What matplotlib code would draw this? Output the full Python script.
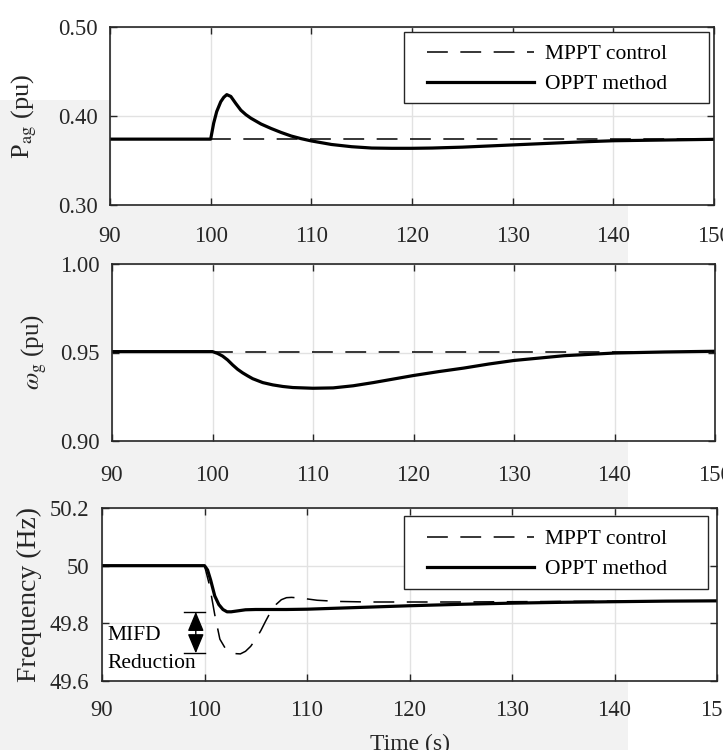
import matplotlib
matplotlib.use("Agg")
import matplotlib.pyplot as plt
from matplotlib.patches import Rectangle

plt.rcParams['font.family'] = ['Liberation Serif', 'DejaVu Serif']
plt.rcParams['mathtext.fontset'] = 'stix'
plt.rcParams['lines.scale_dashes'] = False

# ---------------- data ----------------
t_pag = [90, 100, 100.3, 100.6, 101.0, 101.3, 101.6, 102.0, 102.5, 103.0, 103.5, 104.0,
         105.0, 106.0, 107.0, 108.0, 109.0, 110.0, 112.0, 114.0, 116.0, 118.0, 120.0,
         122.0, 125.0, 128.0, 131.0, 134.0, 137.0, 140.0, 145.0, 150.0]
pag_oppt = [0.374, 0.374, 0.392, 0.405, 0.416, 0.421, 0.424, 0.422, 0.414, 0.4065, 0.4015, 0.3975,
            0.391, 0.386, 0.3815, 0.3775, 0.3745, 0.372, 0.368, 0.3655, 0.364, 0.3637, 0.3637,
            0.364, 0.365, 0.3665, 0.368, 0.3695, 0.371, 0.3722, 0.373, 0.3738]
t_mppt_pag = [90, 150]
pag_mppt = [0.374, 0.374]

t_wg = [90, 100, 100.5, 101.0, 101.5, 102.0, 102.5, 103.0, 103.5, 104.0, 105.0, 106.0, 107.0,
        108.0, 110.0, 112.0, 114.0, 116.0, 118.0, 120.0, 122.5, 125.0, 127.5, 130.0, 135.0,
        140.0, 145.0, 150.0]
wg_oppt = [0.9505, 0.9505, 0.9495, 0.9480, 0.9458, 0.9430, 0.9405, 0.9385, 0.9368, 0.9352, 0.9330,
           0.9317, 0.9308, 0.9302, 0.9298, 0.9300, 0.9312, 0.9330, 0.9350, 0.9370, 0.9392, 0.9412,
           0.9435, 0.9455, 0.9482, 0.9497, 0.9503, 0.9507]
t_mppt_wg = [90, 150]
wg_mppt = [0.9505, 0.9505]

t_f_oppt = [90, 100, 100.3, 100.6, 101.0, 101.4, 101.8, 102.2, 102.6, 103.0, 104.0, 105.0,
            106.0, 108.0, 110.0, 115.0, 120.0, 125.0, 130.0, 135.0, 140.0, 145.0, 150.0]
f_oppt = [50.0, 50.0, 49.985, 49.95, 49.895, 49.865, 49.848, 49.840, 49.840, 49.842, 49.847, 49.848,
          49.848, 49.848, 49.849, 49.855, 49.861, 49.866, 49.870, 49.873, 49.875, 49.877, 49.878]

t_f_mppt = [90, 100, 100.5, 101.0, 101.5, 102.0, 102.5, 103.0, 103.5, 104.0, 104.5, 105.0, 105.5,
            106.0, 106.5, 107.0, 107.5, 108.0, 108.5, 109.5, 111.0, 113.0, 116.0, 125.0, 135.0, 150.0]
f_mppt = [50.0, 50.0, 49.93, 49.83, 49.745, 49.715, 49.700, 49.695, 49.694, 49.703, 49.720, 49.745,
          49.775, 49.810, 49.843, 49.866, 49.882, 49.889, 49.890, 49.887, 49.880, 49.876, 49.874,
          49.874, 49.876, 49.878]

mifd_top = 49.840
mifd_bottom = 49.696

xticks = [90, 100, 110, 120, 130, 140, 150]
yticks_pag = [0.30, 0.40, 0.50]
yticklabels_pag = ['0.30', '0.40', '0.50']
yticks_wg = [0.90, 0.95, 1.00]
yticklabels_wg = ['0.90', '0.95', '1.00']
yticks_f = [49.6, 49.8, 50.0, 50.2]
yticklabels_f = ['49.6', '49.8', '50', '50.2']
legend_labels = ['MPPT control', 'OPPT method']

# ---------------- figure ----------------
W, H = 723, 750
fig = plt.figure(figsize=(W / 100, H / 100), dpi=100, facecolor='white')
fig.add_artist(Rectangle((0, 0), 628 / W, 650 / H, transform=fig.transFigure,
                         facecolor='#f2f2f2', edgecolor='none', zorder=-10))

def pos(l, r, top, bot):
    return [l / W, 1 - bot / H, (r - l) / W, (bot - top) / H]

A1 = (110, 714, 27, 205)
A2 = (112, 715, 264, 441)
A3 = (102, 717, 508, 681)
ax1 = fig.add_axes(pos(*A1))
ax2 = fig.add_axes(pos(*A2))
ax3 = fig.add_axes(pos(*A3))

TICK_FS = 16.3
INK = '#262626'
dash = (0, (15, 9))
kw_d = dict(color='black', lw=1.1, linestyle=dash)
kw_s = dict(color='black', lw=2.3)

def style(ax, yt, ytl, ylim, xpad):
    ax.set_xlim(90, 150)
    ax.set_ylim(*ylim)
    ax.set_xticks(xticks)
    ax.set_yticks(yt)
    ax.set_yticklabels(ytl)
    ax.grid(True, color='#e2e2e2', lw=1.0)
    ax.set_axisbelow(True)
    for s in ax.spines.values():
        s.set_linewidth(1.2)
        s.set_color(INK)
    ax.tick_params(direction='in', length=5, width=1.0, top=True, right=True,
                   labelsize=TICK_FS, colors=INK)
    ax.tick_params(axis='x', pad=xpad)
    ax.tick_params(axis='y', pad=9)
    ax.set_facecolor('white')

def px2ax(A, x, y):
    l, r, top, bot = A
    return (x - l) / (r - l), (bot - y) / (bot - top)

def add_legend(ax, A, handle_x, first_top, box):
    ax_x, ax_y = px2ax(A, handle_x, first_top)
    leg = ax.legend(loc='upper left', bbox_to_anchor=(ax_x, ax_y), borderaxespad=0,
                    borderpad=0, fontsize=15.5, frameon=False, handlelength=4.95,
                    handletextpad=0.55, labelspacing=0.47)
    bx0, by0 = px2ax(A, box[0], box[3])
    bx1, by1 = px2ax(A, box[2], box[1])
    ax.add_patch(Rectangle((bx0, by0), bx1 - bx0, by1 - by0, transform=ax.transAxes,
                           facecolor='white', edgecolor=INK, lw=1.0, zorder=4))
    leg.set_zorder(5)

# Top: P_ag
ax1.plot(t_mppt_pag, pag_mppt, label=legend_labels[0], **kw_d)
ax1.plot(t_pag, pag_oppt, label=legend_labels[1], **kw_s)
style(ax1, yticks_pag, yticklabels_pag, (0.30, 0.50), 15)
ax1.set_ylabel(r'P$_{\rm ag}$ (pu)', fontsize=19, color=INK)
ax1.yaxis.set_label_coords(-0.118, 0.5)
add_legend(ax1, A1, 427, 44, (404, 32, 709, 103))

# Middle: omega_g
ax2.plot(t_mppt_wg, wg_mppt, **kw_d)
ax2.plot(t_wg, wg_oppt, **kw_s)
style(ax2, yticks_wg, yticklabels_wg, (0.90, 1.00), 17)
ax2.set_ylabel(r'$\omega_{\rm g}$ (pu)', fontsize=18, color=INK)
ax2.yaxis.set_label_coords(-0.105, 0.5)

# Bottom: frequency
ax3.plot(t_f_mppt, f_mppt, label=legend_labels[0], **kw_d)
ax3.plot(t_f_oppt, f_oppt, label=legend_labels[1], **kw_s)
style(ax3, yticks_f, yticklabels_f, (49.6, 50.2), 14)
ax3.set_ylabel('Frequency (Hz)', fontsize=20, color=INK)
ax3.yaxis.set_label_coords(-0.098, 0.5)
ax3.set_xlabel('Time (s)', fontsize=17, color=INK)
ax3.xaxis.set_label_coords(*px2ax(A3, 410, 744))
ax3.xaxis.label.set_va('center')
add_legend(ax3, A3, 427, 529, (404, 516, 708, 589))

# MIFD annotation
ax3.plot([98.0, 100.0], [mifd_top, mifd_top], color='black', lw=1.0)
ax3.plot([98.0, 100.0], [mifd_bottom, mifd_bottom], color='black', lw=1.0)
ax3.annotate('', xy=(99.15, mifd_top), xytext=(99.15, mifd_bottom),
             arrowprops=dict(arrowstyle='<|-|>,head_length=0.6,head_width=0.25',
                             color='black', lw=1.0, mutation_scale=20,
                             shrinkA=0, shrinkB=0))
ax3.text(90.55, 49.759, 'MIFD', fontsize=15.5, va='center', ha='left', color='black')
ax3.text(90.55, 49.662, 'Reduction', fontsize=15.5, va='center', ha='left', color='black')

fig.savefig('out.png', dpi=100, facecolor=fig.get_facecolor())
